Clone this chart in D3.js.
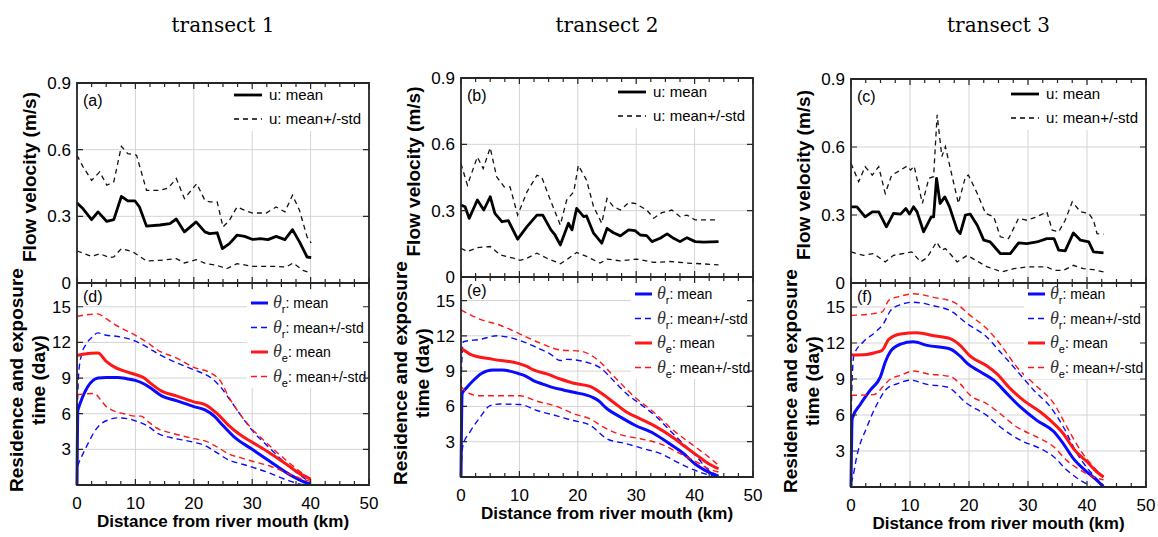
<!DOCTYPE html>
<html>
<head>
<meta charset="utf-8">
<script src="https://cdn.jsdelivr.net/npm/d3@7"></script>
<style>
  body { margin: 0; background: #fff; }
  svg { display: block; }
</style>
</head>
<body>
<svg id="chart" width="1158" height="537"></svg>
<script>
// TEXTS AND TICKS
const transects = ['transect 1', 'transect 2', 'transect 3'];
const topTags = ['(a)', '(b)', '(c)'];
const bottomTags = ['(d)', '(e)', '(f)'];
const xTicks = [0, 10, 20, 30, 40, 50];
const uTicks = [0, 0.3, 0.6, 0.9];
const thetaTicks = [0, 3, 6, 9, 12, 15];

// FLOW VELOCITY [km, m/s]
const uMean1 = [[0,0.36],[1,0.335],[2.5,0.285],[3.6,0.32],[5.1,0.277],[6.3,0.285],[7.6,0.39],[8.7,0.37],[9.9,0.37],[10.7,0.342],[11.9,0.256],[14.2,0.261],[15.9,0.267],[17,0.288],[18.4,0.23],[20.4,0.275],[21.9,0.23],[22.7,0.222],[24,0.226],[24.9,0.155],[26.1,0.177],[27.4,0.215],[28.7,0.21],[30.1,0.196],[31.4,0.2],[32.7,0.195],[34.1,0.21],[35.6,0.195],[36.9,0.24],[38.1,0.185],[39.4,0.117],[40.1,0.114]];
const uUpper1 = [[0,0.575],[1,0.525],[2.5,0.462],[3.9,0.5],[5.1,0.44],[6.3,0.455],[7.6,0.615],[8.7,0.582],[10.2,0.575],[11.9,0.417],[14.2,0.417],[15.6,0.427],[17,0.47],[18.4,0.38],[20.5,0.447],[21.9,0.372],[22.7,0.365],[24,0.365],[25,0.252],[26.1,0.282],[27.4,0.342],[29,0.324],[30.1,0.315],[32.4,0.315],[34.1,0.342],[35.6,0.32],[36.9,0.395],[38.1,0.327],[39.4,0.207],[40.1,0.18]];
const uLower1 = [[0,0.144],[2.5,0.12],[3.9,0.132],[5.6,0.114],[6.3,0.117],[7.6,0.155],[9.6,0.14],[11.9,0.099],[14.2,0.102],[17,0.11],[18.4,0.09],[20.4,0.105],[22.1,0.087],[23.9,0.08],[25.6,0.064],[27.4,0.087],[30.1,0.075],[34.1,0.075],[35.8,0.072],[37,0.09],[38.7,0.057],[40.1,0.045]];

const uMean2 = [[0,0.325],[0.7,0.318],[1.4,0.265],[2.8,0.348],[3.9,0.303],[5,0.363],[5.8,0.288],[7,0.25],[8.1,0.255],[9.7,0.171],[11.3,0.228],[13,0.28],[14,0.28],[15.4,0.213],[16.1,0.19],[17,0.145],[18.4,0.243],[19,0.213],[19.8,0.31],[21,0.273],[21.5,0.276],[22.7,0.198],[24.1,0.153],[25,0.22],[26.1,0.2],[27.3,0.186],[28.7,0.213],[29.8,0.21],[30.7,0.19],[31.8,0.187],[32.7,0.16],[34.1,0.175],[35.3,0.195],[36.4,0.175],[37.5,0.16],[38.7,0.178],[40.1,0.16],[41.5,0.158],[44.1,0.16]];
const uUpper2 = [[0,0.513],[1.1,0.415],[2.8,0.543],[3.8,0.49],[5,0.585],[6.1,0.453],[7.4,0.408],[8.4,0.408],[9.7,0.28],[11.3,0.385],[13,0.46],[13.8,0.453],[15.3,0.348],[17,0.235],[18.1,0.348],[19.3,0.385],[20.1,0.505],[21.5,0.438],[22.7,0.318],[24.1,0.243],[25,0.355],[26.1,0.318],[27.3,0.303],[28.7,0.336],[29.8,0.333],[31.8,0.303],[33,0.266],[34.4,0.291],[36.1,0.303],[37.5,0.273],[38.7,0.28],[40.1,0.258],[41.5,0.258],[44.1,0.258]];
const uLower2 = [[0,0.13],[1.1,0.115],[2.8,0.133],[5,0.138],[6.7,0.1],[9,0.085],[10.1,0.075],[11.3,0.085],[13,0.108],[14.7,0.085],[17,0.06],[18.1,0.078],[19.8,0.111],[21.5,0.093],[23.8,0.063],[25,0.081],[27.3,0.073],[30.1,0.081],[33,0.066],[35.8,0.07],[38.7,0.063],[41,0.06],[44.1,0.055]];

const uMean3 = [[0,0.336],[1,0.336],[2.4,0.292],[3.6,0.314],[4.7,0.314],[6,0.248],[7.2,0.307],[8.4,0.304],[9.3,0.329],[9.9,0.304],[10.6,0.336],[11.2,0.314],[12.3,0.226],[13.6,0.292],[14,0.292],[14.5,0.462],[15.1,0.351],[15.9,0.38],[16.7,0.336],[18,0.233],[18.5,0.218],[19.4,0.3],[20.2,0.304],[21.4,0.255],[22.5,0.189],[23.6,0.181],[25.3,0.13],[27,0.13],[28.4,0.177],[29.8,0.174],[31.5,0.181],[33.2,0.196],[34.4,0.196],[35.2,0.145],[36.3,0.142],[37.7,0.221],[38.9,0.189],[40.3,0.181],[41.1,0.137],[42.8,0.133]];
const uUpper3 = [[0,0.528],[1.3,0.447],[2.4,0.513],[3.6,0.476],[4.7,0.513],[5.8,0.395],[6.9,0.476],[8.4,0.498],[9.5,0.516],[10.1,0.498],[10.7,0.516],[12.1,0.351],[13.2,0.462],[14,0.469],[14.6,0.742],[15.4,0.558],[16,0.602],[16.9,0.498],[18.2,0.351],[19.4,0.469],[19.9,0.476],[21.4,0.395],[22.8,0.307],[24.2,0.292],[25.3,0.204],[26.7,0.196],[28.4,0.285],[29.8,0.277],[31.5,0.292],[33.2,0.314],[34.1,0.233],[35.2,0.226],[36.3,0.277],[37.5,0.358],[38.9,0.314],[40.3,0.307],[41.1,0.277],[41.7,0.218],[42.8,0.215]];
const uLower3 = [[0,0.137],[2.1,0.122],[3.8,0.13],[5.8,0.093],[7.2,0.122],[10.3,0.137],[11.8,0.093],[12.9,0.112],[14.5,0.181],[15.4,0.145],[16,0.152],[18,0.093],[19.7,0.122],[23.1,0.071],[25.6,0.049],[27.6,0.063],[29.8,0.071],[33.2,0.071],[34.4,0.056],[36,0.056],[37.7,0.078],[39.4,0.063],[41.1,0.059],[42.8,0.049]];

// RESIDENCE TIME theta_r [km, day]
const thRMean1 = [[0,0],[0.15,6.3],[3.6,9.0],[5,9.05],[7,9.05],[8.5,8.95],[10,8.8],[11.5,8.5],[12.5,8.2],[14.5,7.5],[17,7.1],[20,6.6],[22,6.3],[23.5,5.8],[25,5.0],[27,4.0],[30,3.0],[33,2.0],[36,1.0],[38,0.45],[40,0.05]];
const thRUpper1 = [[0,5.5],[0.3,9.5],[0.8,11.0],[1.5,11.8],[2.5,12.4],[3.6,12.8],[5,12.6],[7,12.5],[10,12.1],[12,11.6],[14,11.0],[17,10.3],[20,9.7],[23,9.0],[24.5,8.3],[26,7.3],[28,5.9],[30,4.6],[33,3.1],[36,1.7],[38,0.9],[40,0.2]];
const thRLower1 = [[0.1,1.6],[0.5,2.1],[1,2.6],[2,3.6],[3,4.5],[4,5.1],[5.5,5.5],[7,5.65],[9,5.55],[10,5.4],[12,5.0],[14,4.3],[16,4.0],[18,3.8],[20,3.6],[22,3.3],[24,2.7],[26,2.1],[28,1.8],[30,1.5],[33,1.0],[36,0.4],[38,0.1],[40,0.0]];
const thRMean2 = [[0,0],[0.2,7.1],[1,7.6],[2.1,8.2],[3.5,8.8],[5.5,9.1],[7,9.1],[9.8,8.8],[11,8.6],[12.4,8.2],[14,7.9],[15.8,7.6],[17.5,7.4],[19.3,7.2],[22.4,6.8],[23.5,6.5],[25,5.8],[27.3,5.1],[29.8,4.4],[33,3.7],[35.8,2.8],[38.1,2.0],[40.1,1.1],[41.8,0.56],[44.1,0.06]];
const thRUpper2 = [[0,8.0],[0.2,10.5],[0.4,11.5],[3.3,11.7],[6.1,12.0],[10.1,11.6],[13,11.0],[15.3,10.45],[17,9.9],[18.1,10.0],[21.5,9.75],[23.8,9.3],[26.1,8.2],[28.4,7.06],[30.7,6.2],[33.5,5.1],[35.8,3.95],[38.1,2.8],[40.4,1.7],[42.4,0.56],[44.1,0.14]];
const thRLower2 = [[0,0.5],[0.2,2.2],[0.4,2.8],[1.5,3.8],[3.3,5.1],[5,6.07],[6.7,6.2],[10.1,6.16],[13,5.65],[16.4,5.2],[18.7,4.86],[22.1,4.4],[25,3.25],[28.4,2.82],[31.3,2.4],[34.1,2.0],[37,1.27],[39.8,0.62],[42.7,0.14],[44.1,0]];
const thRMean3 = [[0,0],[0.2,5.7],[1.6,6.9],[3.3,8.1],[5,9.2],[5.8,10.4],[6.7,11.3],[8.4,11.9],[10.6,12.1],[12.9,11.8],[16.8,11.5],[18.5,10.9],[19.7,10.3],[21.9,9.6],[24.2,8.9],[26.4,7.8],[28.7,6.67],[31.5,5.55],[34.4,4.6],[36,3.6],[37.7,2.36],[40,1.25],[41.7,0.55],[42.8,0]];
const thRUpper3 = [[0,5.5],[0.2,9.0],[0.5,11.0],[2.1,12.1],[4.1,12.9],[5.5,13.6],[6.7,14.7],[8.4,15.2],[10.6,15.4],[14,15.1],[16.8,14.7],[19.7,13.6],[23,12.5],[25.3,11.25],[28.1,9.7],[31,8.05],[33.8,6.67],[36,5.0],[38.3,2.8],[40.6,1.25],[42.8,0.14]];
const thRLower3 = [[0,0.3],[0.3,0.8],[1,2.6],[2.7,5.0],[4.4,6.9],[6.1,8.2],[7.8,8.6],[10.1,8.9],[12.9,8.55],[16.3,8.33],[19.7,6.94],[23,5.97],[25.3,5.0],[28.7,3.9],[32.1,3.2],[34.4,2.5],[36.6,1.4],[38.9,0.55],[40.6,0.1]];

// EXPOSURE TIME theta_e [km, day]
const thEMean1 = [[0,10.9],[1,11.0],[3.6,11.1],[5,10.4],[6.5,9.9],[8,9.6],[10,9.3],[11.5,9.0],[12.5,8.6],[14.5,7.9],[17,7.5],[20,7.0],[22,6.75],[24,6.0],[26,5.0],[28,4.2],[30,3.6],[33,2.7],[36,1.7],[38,1.0],[40,0.5]];
const thEUpper1 = [[0,14.2],[2,14.35],[3.5,14.4],[5,14.0],[6.5,13.5],[8,13.1],[10,12.6],[12,12.0],[14,11.3],[17,10.7],[20,9.9],[23,9.4],[24.5,8.8],[26,7.4],[28,5.9],[30,4.7],[33,3.3],[36,2.0],[38,1.2],[40,0.5]];
const thELower1 = [[0,7.6],[3,7.7],[4,7.2],[5,6.6],[6,6.3],[8,6.0],[10,5.8],[11,5.8],[12,5.4],[14,4.7],[16,4.4],[20,3.9],[22,3.7],[24,3.2],[26,2.6],[28,2.3],[30,2.0],[33,1.6],[36,1.0],[38,0.6],[40,0.3]];
const thEMean2 = [[0,10.9],[0.4,10.8],[1.5,10.45],[5.5,10.0],[9.8,9.66],[11.3,9.4],[12.4,9.1],[14.7,8.76],[17,8.33],[19.3,7.97],[22.1,7.7],[23.8,7.2],[26.1,6.36],[28.4,5.5],[30.7,4.94],[33.5,4.24],[35.8,3.53],[38.1,2.68],[40.4,1.84],[42.4,1.13],[44.1,0.7]];
const thEUpper2 = [[0,14.2],[3.3,13.4],[6.7,12.9],[10.1,12.15],[13.5,11.4],[17,10.8],[20.4,10.7],[23.3,10.0],[26.1,8.6],[29.5,6.9],[33,5.5],[36.4,3.95],[39.8,2.68],[42.4,1.7],[44.1,1.0]];
const thELower2 = [[0,7.7],[1,7.2],[3.3,6.9],[6.1,6.9],[10.1,6.9],[13,6.44],[16.4,6.0],[19.3,5.37],[22.1,4.94],[24.4,4.24],[27.3,3.6],[30.7,3.25],[34.1,2.82],[37.5,1.98],[40.4,1.27],[42.4,0.7],[44.1,0.42]];
const thEMean3 = [[0,11.0],[2.7,11.05],[4.1,11.2],[5.3,11.4],[6.4,12.3],[8.4,12.75],[11.2,12.85],[14,12.6],[16.8,12.36],[18.5,11.8],[20.2,10.9],[23,10.1],[24.7,9.44],[27,8.2],[29.3,7.2],[32.1,6.25],[33.8,5.55],[36,4.44],[37.7,3.2],[40,2.1],[41.7,1.25],[42.8,0.83]];
const thEUpper3 = [[0,14.3],[3.8,14.45],[5.3,14.6],[6.4,15.55],[8.4,15.9],[10.6,16.1],[14,15.8],[17.4,15.4],[20.2,14.3],[23,13.2],[25.3,11.9],[28.1,10.0],[31,8.6],[34.4,6.94],[36.6,5.0],[38.9,3.05],[41.1,1.67],[42.8,0.83]];
const thELower3 = [[0,7.64],[3.8,7.7],[4.6,7.9],[5.3,8.3],[6.7,9.0],[8.4,9.3],[10.6,9.67],[12.9,9.44],[16.8,9.2],[18.5,8.6],[20.2,7.64],[23,6.94],[25.3,6.1],[28.1,5.0],[31.5,4.17],[34.4,3.33],[36.6,2.2],[38.9,1.4],[41.1,0.83],[42.8,0.6]];

// PANEL GEOMETRY (pixels)
const layout = [
  { x0: 77, x1: 369, yTop: 83, yMid: 283, yBot: 485, legU: 12, legT: 20 },
  { x0: 461, x1: 753, yTop: 78, yMid: 277, yBot: 477, legU: 14, legT: 17 },
  { x0: 851, x1: 1146, yTop: 79, yMid: 283, yBot: 487, legU: 15, legT: 11 }
];
const uSets = [[uMean1, uUpper1, uLower1], [uMean2, uUpper2, uLower2], [uMean3, uUpper3, uLower3]];
const rSets = [[thRMean1, thRUpper1, thRLower1], [thRMean2, thRUpper2, thRLower2], [thRMean3, thRUpper3, thRLower3]];
const eSets = [[thEMean1, thEUpper1, thELower1], [thEMean2, thEUpper2, thELower2], [thEMean3, thEUpper3, thELower3]];

const BLUE = '#0a0aff', RED = '#ff1616', GRID = '#d4d4d4', INK = '#262626';
const SANS = "'Liberation Sans', Arial, sans-serif";

let svg = d3.select('svg').attr('font-family', SANS);

function drawPanel(i) {
  const L = layout[i];
  const x = d3.scaleLinear().domain([0, 50]).range([L.x0, L.x1]);
  const yU = d3.scaleLinear().domain([0, 0.9]).range([L.yMid, L.yTop]);
  const yT = d3.scaleLinear().domain([0, 17]).range([L.yBot, L.yMid]);
  const g = svg.append('g');

  // GRID
  [[yU, [0.3, 0.6]], [yT, [3, 6, 9, 12, 15]]].forEach(([y, vals]) => {
    const [b, t] = y.range();
    g.append('g').selectAll('line').data([10, 20, 30, 40]).join('line')
      .attr('x1', d => x(d)).attr('x2', d => x(d)).attr('y1', b).attr('y2', t)
      .attr('stroke', GRID).attr('stroke-width', 1);
    g.append('g').selectAll('line').data(vals).join('line')
      .attr('x1', L.x0).attr('x2', L.x1).attr('y1', d => y(d)).attr('y2', d => y(d))
      .attr('stroke', GRID).attr('stroke-width', 1);
  });

  // LINES
  const lineU = d3.line().x(d => x(d[0])).y(d => yU(d[1]));
  const lineT = d3.line().x(d => x(d[0])).y(d => yT(d[1])).curve(d3.curveMonotoneX);

  const [um, uu, ul] = uSets[i];
  [uu, ul].forEach(s => g.append('path').attr('d', lineU(s)).attr('fill', 'none')
    .attr('stroke', '#111').attr('stroke-width', 1.3).attr('stroke-dasharray', '5,4'));
  g.append('path').attr('d', lineU(um)).attr('fill', 'none')
    .attr('stroke', '#000').attr('stroke-width', 2.8).attr('stroke-linejoin', 'round');

  [[rSets[i], BLUE], [eSets[i], RED]].forEach(([set, col]) => {
    g.append('path').attr('d', lineT(set[0])).attr('fill', 'none')
      .attr('stroke', col).attr('stroke-width', 3).attr('stroke-linejoin', 'round');
    [set[1], set[2]].forEach(s => g.append('path').attr('d', lineT(s)).attr('fill', 'none')
      .attr('stroke', col).attr('stroke-width', 1.4).attr('stroke-dasharray', '6,4'));
  });

  // LEGEND: VELOCITY
  const lu = g.append('g').attr('transform', `translate(${L.x1 - 135},${L.yTop + L.legU})`);
  lu.append('rect').attr('x', -3).attr('y', -10).attr('width', 132).attr('height', 46).attr('fill', '#fff');
  [['u: mean', 2.8, null], ['u: mean+/-std', 1.3, '5,4']].forEach((r, k) => {
    lu.append('line').attr('x1', 0).attr('x2', 28).attr('y1', k * 24).attr('y2', k * 24)
      .attr('stroke', '#000').attr('stroke-width', r[1]).attr('stroke-dasharray', r[2]);
    lu.append('text').attr('x', 35).attr('y', k * 24 + 5).attr('font-size', 15).text(r[0]);
  });

  // LEGEND: TIMES
  const lt = g.append('g').attr('transform', `translate(${L.x1 - 118},${L.yMid + L.legT})`);
  lt.append('rect').attr('x', -4).attr('y', -13).attr('width', 120).attr('height', 98).attr('fill', '#fff');
  [['r', ': mean', BLUE, 3, null], ['r', ': mean+/-std', BLUE, 1.4, '6,4'],
   ['e', ': mean', RED, 3, null], ['e', ': mean+/-std', RED, 1.4, '6,4']].forEach((r, k) => {
    const yy = k * 24.5;
    lt.append('line').attr('x1', 0).attr('x2', 17).attr('y1', yy).attr('y2', yy)
      .attr('stroke', r[2]).attr('stroke-width', r[3]).attr('stroke-dasharray', r[4]);
    const tx = lt.append('text').attr('x', 22).attr('y', yy + 5).attr('font-size', 14);
    tx.append('tspan').attr('font-family', "'Liberation Serif', serif").attr('font-style', 'italic')
      .attr('font-size', 18).attr('fill', '#333').text('θ');
    tx.append('tspan').attr('font-size', 11).attr('dy', 5).text(r[0]);
    tx.append('tspan').attr('dy', -5).text(r[1]);
  });

  // FRAMES (outline of both sub-panels)
  const fp = d3.path();
  fp.moveTo(L.x0, L.yTop); fp.lineTo(L.x1, L.yTop); fp.lineTo(L.x1, L.yBot);
  fp.lineTo(L.x0, L.yBot); fp.closePath();
  fp.moveTo(L.x0, L.yMid); fp.lineTo(L.x1, L.yMid);
  g.append('path').attr('d', fp.toString()).attr('fill', 'none')
    .attr('stroke', INK).attr('stroke-width', 1.8);

  // INWARD TICKS
  const minor = d3.range(2.5, 50, 2.5).filter(v => v % 10 !== 0);
  const tp = d3.path();
  [[L.yTop, 1], [L.yMid, -1], [L.yMid, 1], [L.yBot, -1]].forEach(([yy, dir]) => {
    xTicks.forEach(v => { tp.moveTo(x(v), yy); tp.lineTo(x(v), yy + dir * 6); });
    minor.forEach(v => { tp.moveTo(x(v), yy); tp.lineTo(x(v), yy + dir * 4); });
  });
  uTicks.map(yU).concat(thetaTicks.map(yT)).forEach(yy => {
    tp.moveTo(L.x0, yy); tp.lineTo(L.x0 + 6, yy);
    tp.moveTo(L.x1, yy); tp.lineTo(L.x1 - 6, yy);
  });
  g.append('path').attr('d', tp.toString()).attr('fill', 'none')
    .attr('stroke', INK).attr('stroke-width', 1.2);

  // TICK LABELS
  g.append('g').selectAll('text').data(uTicks).join('text')
    .attr('x', L.x0 - 6).attr('y', d => yU(d) + 6).attr('text-anchor', 'end').attr('font-size', 17)
    .text(d => d === 0 ? '0' : d3.format('.1f')(d));
  g.append('g').selectAll('text').data(thetaTicks.slice(1)).join('text')
    .attr('x', L.x0 - 6).attr('y', d => yT(d) + 6).attr('text-anchor', 'end').attr('font-size', 17)
    .text(d => d);
  g.append('g').selectAll('text').data(xTicks).join('text')
    .attr('x', d => x(d)).attr('y', L.yBot + 24).attr('text-anchor', 'middle').attr('font-size', 17)
    .text(d => d);

  // PANEL TAGS
  g.append('text').attr('x', L.x0 + 6).attr('y', L.yTop + 23).attr('font-size', 16).text(topTags[i]);
  g.append('text').attr('x', L.x0 + 6).attr('y', yT(17) + 19).attr('font-size', 16).text(bottomTags[i]);

  // AXIS TITLES
  svg.append('text').attr('x', (L.x0 + L.x1) / 2).attr('y', 32).attr('text-anchor', 'middle')
    .attr('font-family', "'DejaVu Serif', serif").attr('font-size', 20).text(transects[i]);
  svg.append('text').attr('transform', `translate(${L.x0 - 41},${(L.yTop + L.yMid) / 2 - 6}) rotate(-90)`)
    .attr('text-anchor', 'middle').attr('font-weight', 'bold').attr('font-size', 19)
    .text('Flow velocity (m/s)');
  svg.append('text').attr('transform', `translate(${L.x0 - 54},${(L.yMid + L.yBot) / 2 - 4}) rotate(-90)`)
    .attr('text-anchor', 'middle').attr('font-weight', 'bold').attr('font-size', 19)
    .text('Residence and exposure');
  svg.append('text').attr('transform', `translate(${L.x0 - 32},${(L.yMid + L.yBot) / 2 - 4}) rotate(-90)`)
    .attr('text-anchor', 'middle').attr('font-weight', 'bold').attr('font-size', 19)
    .text('time (day)');
  svg.append('text').attr('x', (L.x0 + L.x1) / 2).attr('y', L.yBot + 42).attr('text-anchor', 'middle')
    .attr('font-weight', 'bold').attr('font-size', 17).text('Distance from river mouth (km)');
}

// DRAW
layout.forEach((_, i) => drawPanel(i));
</script>
</body>
</html>
